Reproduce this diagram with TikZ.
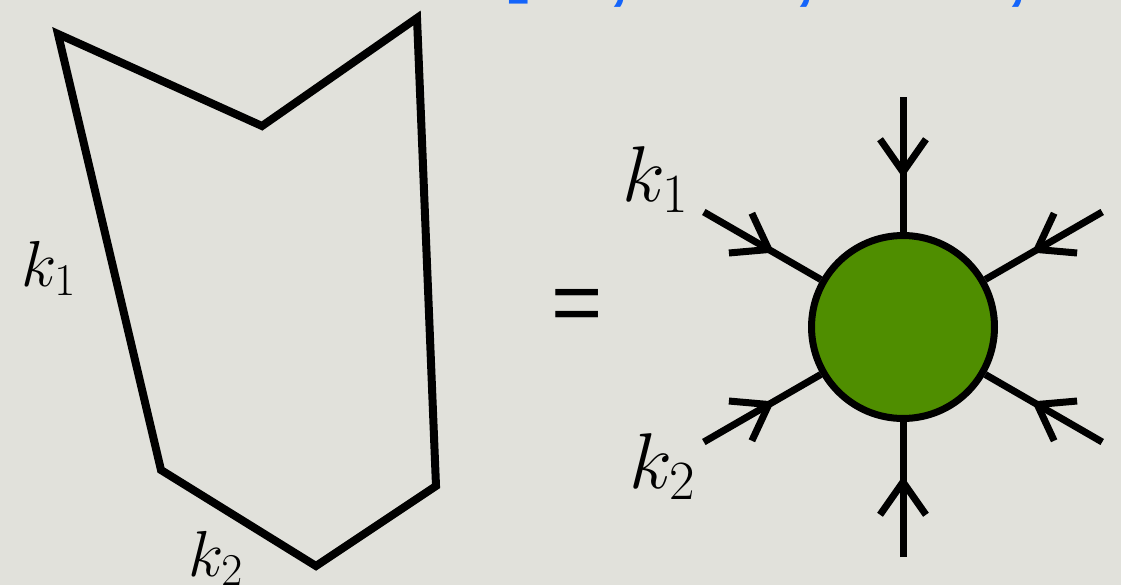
\documentclass[tikz,border=0pt]{standalone}
\usepackage{fix-cm}
\usepackage{fontspec}
\newfontfamily\eqfont{Liberation Sans}
\usetikzlibrary{calc}
\definecolor{bg}{RGB}{225,225,219}
\definecolor{blobgreen}{RGB}{79,142,0}
\definecolor{topblue}{RGB}{20,100,250}
\tikzset{
  poly/.style={line width=0.16cm, line join=miter},
  leg/.style={line width=0.14cm, line join=miter},
  blob/.style={circle, draw=black, fill=blobgreen, line width=0.14cm, minimum size=3.66cm, inner sep=0pt},
  lab/.style={inner sep=0pt, font=\fontsize{37}{42}\selectfont},
  biglab/.style={inner sep=0pt, font=\fontsize{45}{50}\selectfont},
  frag/.style={inner sep=0pt, text=topblue, font=\eqfont\bfseries\fontsize{40}{44}\selectfont},
}
\begin{document}
\begin{tikzpicture}[x=0.02cm,y=-0.02cm]
\clip (0,0) rectangle (1121,585);
\fill[bg] (0,0) rectangle (1121,585);
\useasboundingbox (0,0) rectangle (1121,585);

% cut-off blue text at top
\node[frag, anchor=south] (f0) at (517,4) {[};
\node[frag, anchor=south] (f1) at (619,8) {,};
\node[frag, anchor=south] (f2) at (805,8) {,};
\node[frag, anchor=south] (f3) at (1017,8) {,};

% polygon
\coordinate (p1) at (58,34);
\coordinate (p2) at (262,126);
\coordinate (p3) at (417,18);
\coordinate (p4) at (436,486);
\coordinate (p5) at (316,566);
\coordinate (p6) at (161,470);
\draw[poly] (p1) -- (p2) -- (p3) -- (p4) -- (p5) -- (p6) -- cycle;

\node[lab, anchor=base west] (lk1) at (21,286) {$k_1$};
\node[lab, anchor=base west] (lk2) at (188,576) {$k_2$};

% equals
\node[inner sep=0pt, anchor=base, font=\eqfont\fontsize{50}{56}\selectfont] (eq) at (577,332) {=};

% blob with legs
\node[blob] (c) at (903,327) {};
\foreach \a/\n in {90/a,30/b,-30/c,-90/d,-150/e,150/f}{
  \coordinate (e\n) at ($(c.center)+(\a:230)$);
  \coordinate (t\n) at ($(c.center)+(\a:155)$);
  \draw[leg] (e\n) -- (c);
  \draw[leg] ($(t\n)+(\a+35:40)$) -- (t\n) -- ($(t\n)+(\a-35:40)$);
}

\node[biglab, anchor=base west] (rk1) at (622,201) {$k_1$};
\node[biglab, anchor=base west] (rk2) at (629,488) {$k_2$};
\end{tikzpicture}
\end{document}
